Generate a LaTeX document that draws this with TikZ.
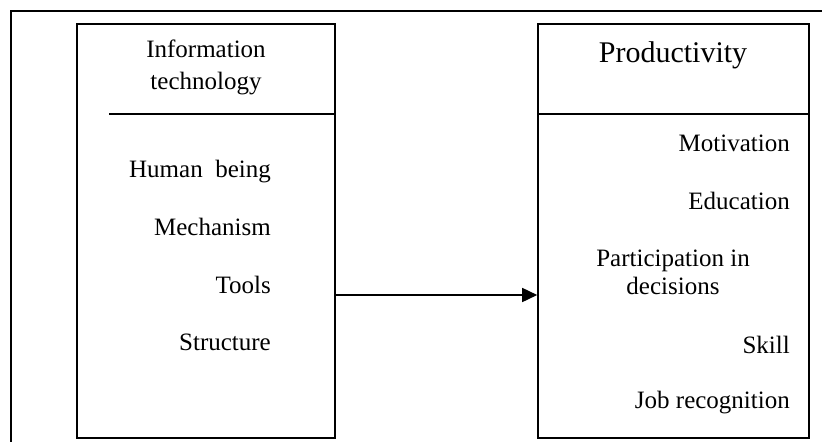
\documentclass[tikz,border=0pt]{standalone}
\usepackage{fontspec}
\setmainfont{Liberation Serif}
\usetikzlibrary{arrows.meta}
\begin{document}
\begin{tikzpicture}[x=1pt,y=-1pt,
  line/.style={line width=1.6pt,draw=black},
  box/.style={line, rectangle, inner sep=0pt, minimum width=#1, minimum height=414pt},
  item/.style={font=\fontsize{25}{30}\selectfont, inner sep=0pt},
  head/.style={font=\fontsize{30}{36}\selectfont, inner sep=0pt},
  arr/.style={line, -{Triangle[length=15pt,width=14pt]}}]
\useasboundingbox (0,0) rectangle (822,442);
% outer frame (only top and left edges visible)
\coordinate (frTR) at (822,11);
\coordinate (frTL) at (11,11);
\coordinate (frBL) at (11,442);
\draw[line] (frTR) -- (frTL) -- (frBL);
% boxes
\node[box=258pt] (itbox) at (206,231) {};
\node[box=271pt] (prbox) at (673.5,231) {};
\coordinate (itdivL) at (109,114);
\coordinate (itdivR) at (335,114);
\draw[line] (itdivL) -- (itdivR);
\coordinate (prdivL) at (538,114);
\coordinate (prdivR) at (809,114);
\draw[line] (prdivL) -- (prdivR);
% left texts
\node[item, anchor=base] (it1) at (206,57) {Information};
\node[item, anchor=base] (it2) at (206,89) {technology};
\node[item, anchor=base east] (hb) at (271,177) {Human\ \ being};
\node[item, anchor=base east] (mech) at (271,235) {Mechanism};
\node[item, anchor=base east] (tools) at (271,293) {Tools};
\node[item, anchor=base east] (struct) at (271,350) {Structure};
% right texts
\node[head, anchor=base] (prod) at (673,62) {Productivity};
\node[item, anchor=base east] (mot) at (790,151) {Motivation};
\node[item, anchor=base east] (edu) at (790,209) {Education};
\node[item, anchor=base] (part1) at (673,266) {Participation in};
\node[item, anchor=base] (part2) at (673,294) {decisions};
\node[item, anchor=base east] (skill) at (790,353) {Skill};
\node[item, anchor=base east] (job) at (790,408) {Job recognition};
% arrow
\draw[arr] ([yshift=-64pt]itbox.east) -- ([yshift=-64pt]prbox.west);
\end{tikzpicture}
\end{document}
